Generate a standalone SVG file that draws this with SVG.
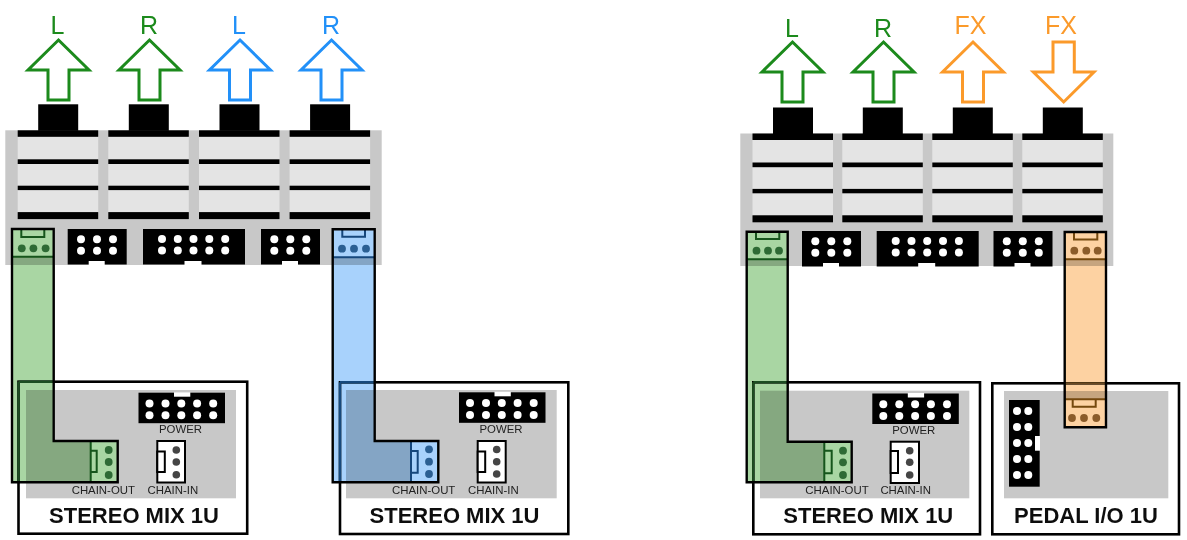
<svg xmlns="http://www.w3.org/2000/svg" width="1187" height="540" viewBox="0 0 1187 540">
<defs>
<style>
text{font-family:"Liberation Sans",Arial,sans-serif}
.sig{font-size:25px;text-anchor:middle}
.arrow{fill:#fff;stroke-width:3;stroke-linejoin:miter}
.g{stroke:#1a8a1a}.gt{fill:#1a8a1a}
.b{stroke:#2090f8}.bt{fill:#2090f8}
.o{stroke:#fb9a2c}.ot{fill:#fb9a2c}
.pg{fill:#c8c8c8}
.mod{fill:#e4e4e4}
.k{fill:#000}
.wd{fill:#fff}
.box{fill:#fff;stroke:#000;stroke-width:2.6}
.name{font-size:22px;font-weight:bold;text-anchor:middle;fill:#111}
.sm{font-size:11.4px;text-anchor:middle;fill:#222}
.cable{mix-blend-mode:multiply;stroke:none}
.outline{fill:none;stroke:#000;stroke-width:2.4;stroke-linejoin:miter}
.gf{fill:#a9d6a3}.bf{fill:#a8d2fc}.of{fill:#fdd2a2}
.gd{fill:#2f6b34}.bd{fill:#2b5f93}.od{fill:#8b5c2a}.nd{fill:#444}
.gl{fill:none;stroke:#14551a;stroke-width:2}
.bl{fill:none;stroke:#14477c;stroke-width:2}
.ol{fill:none;stroke:#74480f;stroke-width:2}
.nl{fill:#fff;stroke:#000;stroke-width:2}
</style>
<filter id="soft" x="0" y="0" width="100%" height="100%"><feGaussianBlur stdDeviation="0.45"/></filter>
<path id="up" d="M0 0L30.5 30H10.5V60H-10.5V30H-30.5Z"/>
<g id="stripes">
<rect class="mod" x="0" y="6" width="80.5" height="76"/>
<rect class="k" x="0" y="0" width="80.5" height="6.5"/>
<rect class="k" x="0" y="29" width="80.5" height="4.7"/>
<rect class="k" x="0" y="55.4" width="80.5" height="4.4"/>
<rect class="k" x="0" y="81.8" width="80.5" height="7"/>
<rect class="k" x="20.5" y="-26" width="40" height="26.5"/>
</g>
<g id="hdr6">
<rect class="k" x="0" y="0" width="59" height="35.5"/>
<rect class="wd" x="21" y="32" width="16" height="4"/>
<circle class="wd" cx="13.3" cy="10.3" r="4"/><circle class="wd" cx="29.3" cy="10.3" r="4"/><circle class="wd" cx="45.3" cy="10.3" r="4"/>
<circle class="wd" cx="13.3" cy="21.8" r="4"/><circle class="wd" cx="29.3" cy="21.8" r="4"/><circle class="wd" cx="45.3" cy="21.8" r="4"/>
</g>
<g id="hdr10">
<rect class="k" x="0" y="0" width="102" height="35.5"/>
<rect class="wd" x="41.5" y="32" width="17" height="4"/>
<circle class="wd" cx="19" cy="10" r="4"/><circle class="wd" cx="34.8" cy="10" r="4"/><circle class="wd" cx="50.5" cy="10" r="4"/><circle class="wd" cx="66.3" cy="10" r="4"/><circle class="wd" cx="82.2" cy="10" r="4"/>
<circle class="wd" cx="19" cy="21.6" r="4"/><circle class="wd" cx="34.8" cy="21.6" r="4"/><circle class="wd" cx="50.5" cy="21.6" r="4"/><circle class="wd" cx="66.3" cy="21.6" r="4"/><circle class="wd" cx="82.2" cy="21.6" r="4"/>
</g>
<g id="pwr">
<rect class="k" x="0" y="0" width="86.5" height="30.5"/>
<rect class="wd" x="35.5" y="-0.5" width="16.3" height="4.5"/>
<circle class="wd" cx="11" cy="10.8" r="4"/><circle class="wd" cx="27" cy="10.8" r="4"/><circle class="wd" cx="42.8" cy="10.8" r="4"/><circle class="wd" cx="58.6" cy="10.8" r="4"/><circle class="wd" cx="74.7" cy="10.8" r="4"/>
<circle class="wd" cx="11" cy="22.6" r="4"/><circle class="wd" cx="27" cy="22.6" r="4"/><circle class="wd" cx="42.8" cy="22.6" r="4"/><circle class="wd" cx="58.6" cy="22.6" r="4"/><circle class="wd" cx="74.7" cy="22.6" r="4"/>
</g>
</defs>
<g filter="url(#soft)">
<rect x="0" y="0" width="1187" height="540" fill="#fff"/>

<g id="out-l-a"><text class="sig gt" x="57.5" y="33.5">L</text><use href="#up" class="arrow g" x="58.5" y="40"/></g>
<g id="out-r-a"><text class="sig gt" x="149" y="33.5">R</text><use href="#up" class="arrow g" x="149.5" y="40"/></g>
<g id="out-l-b"><text class="sig bt" x="239" y="33.5">L</text><use href="#up" class="arrow b" x="240" y="40"/></g>
<g id="out-r-b"><text class="sig bt" x="331" y="33.5">R</text><use href="#up" class="arrow b" x="331.5" y="40"/></g>
<g id="out-l-c"><text class="sig gt" x="792" y="37">L</text><use href="#up" class="arrow g" x="792.5" y="42"/></g>
<g id="out-r-c"><text class="sig gt" x="883" y="37">R</text><use href="#up" class="arrow g" x="883.5" y="42"/></g>
<g id="out-fx-1"><text class="sig ot" x="970.5" y="33.5">FX</text><use href="#up" class="arrow o" x="973" y="42"/></g>
<g id="in-fx-2"><text class="sig ot" x="1061" y="33.5">FX</text><path class="arrow o" d="M1053 42H1074.3V72H1094L1063.7 102L1033.3 72H1053Z"/></g>

<g id="panel-left">
<rect class="pg" x="5.3" y="130.3" width="376.4" height="134.7"/>
<use href="#stripes" x="17.7" y="130.3"/>
<use href="#stripes" x="108.3" y="130.3"/>
<use href="#stripes" x="199" y="130.3"/>
<use href="#stripes" x="289.6" y="130.3"/>
<use href="#hdr6" x="67.7" y="229"/>
<use href="#hdr10" x="143" y="229"/>
<use href="#hdr6" x="261" y="229"/>
</g>
<g id="panel-right">
<rect class="pg" x="740.3" y="133.5" width="373" height="132.5"/>
<use href="#stripes" x="752.5" y="133.5"/>
<use href="#stripes" x="842.3" y="133.5"/>
<use href="#stripes" x="932.3" y="133.5"/>
<use href="#stripes" x="1022.3" y="133.5"/>
<use href="#hdr6" x="802" y="231"/>
<use href="#hdr10" x="876.7" y="231"/>
<use href="#hdr6" x="993.5" y="231"/>
</g>

<g id="mix-1">
<rect class="box" x="18.5" y="381.7" width="228.7" height="152"/>
<rect class="pg" x="26" y="390" width="210" height="108.3"/>
<use href="#pwr" x="138.5" y="392.7"/>
<text class="sm" x="180.5" y="433">POWER</text>
<text class="sm" x="103.3" y="494">CHAIN-OUT</text>
<text class="sm" x="172.8" y="494">CHAIN-IN</text>
<rect class="nl" x="157.3" y="441" width="27.7" height="41.5"/>
<rect class="nl" x="157.3" y="451.5" width="7.5" height="20.5"/>
<circle class="nd" cx="176.3" cy="450" r="3.8"/><circle class="nd" cx="176.3" cy="462" r="3.8"/><circle class="nd" cx="176.3" cy="474.7" r="3.8"/>
<text class="name" x="134" y="523">STEREO MIX 1U</text>
</g>
<g id="mix-2">
<rect class="box" x="340" y="382.3" width="228.3" height="151.7"/>
<rect class="pg" x="346" y="390" width="210.7" height="108.3"/>
<use href="#pwr" x="459" y="392.3"/>
<text class="sm" x="501" y="432.5">POWER</text>
<text class="sm" x="423.7" y="494">CHAIN-OUT</text>
<text class="sm" x="493.3" y="494">CHAIN-IN</text>
<rect class="nl" x="477.7" y="441" width="28" height="41.5"/>
<rect class="nl" x="477.7" y="451.5" width="7.5" height="20.5"/>
<circle class="nd" cx="496.7" cy="449.5" r="3.8"/><circle class="nd" cx="496.7" cy="461.7" r="3.8"/><circle class="nd" cx="496.7" cy="474" r="3.8"/>
<text class="name" x="454.5" y="523">STEREO MIX 1U</text>
</g>
<g id="mix-3">
<rect class="box" x="753.3" y="382.3" width="226.7" height="152"/>
<rect class="pg" x="760" y="390.7" width="209.3" height="107.6"/>
<use href="#pwr" x="872.3" y="393.5"/>
<text class="sm" x="913.7" y="433.5">POWER</text>
<text class="sm" x="837" y="494">CHAIN-OUT</text>
<text class="sm" x="905.7" y="494">CHAIN-IN</text>
<rect class="nl" x="890.7" y="441.7" width="28.3" height="41.3"/>
<rect class="nl" x="890.7" y="451" width="7.3" height="22"/>
<circle class="nd" cx="909.7" cy="450.7" r="3.8"/><circle class="nd" cx="909.7" cy="462.3" r="3.8"/><circle class="nd" cx="909.7" cy="475" r="3.8"/>
<text class="name" x="868.3" y="523.3">STEREO MIX 1U</text>
</g>
<g id="pedal-io">
<rect class="box" x="992.3" y="383.3" width="186.7" height="151"/>
<rect class="pg" x="1004" y="391" width="164.3" height="107.3"/>
<rect class="k" x="1009" y="400" width="30.7" height="86.7"/>
<rect class="wd" x="1035" y="436" width="5" height="14.7"/>
<g class="wd">
<circle cx="1017" cy="411" r="4"/><circle cx="1028.3" cy="411" r="4"/>
<circle cx="1017" cy="427" r="4"/><circle cx="1028.3" cy="427" r="4"/>
<circle cx="1017" cy="443" r="4"/><circle cx="1028.3" cy="443" r="4"/>
<circle cx="1017" cy="459" r="4"/><circle cx="1028.3" cy="459" r="4"/>
<circle cx="1017" cy="475" r="4"/><circle cx="1028.3" cy="475" r="4"/>
</g>
<text class="name" x="1086" y="523">PEDAL I/O 1U</text>
</g>

<g id="connectors">
<g id="cable-green-1">
<path class="cable gf" d="M12 229H53.7V441H117.7V482.3H12Z"/>
<path d="M18.5 381.7H53.7M18.5 381.7V482.3" fill="none" stroke="#1d4d22" stroke-width="2.4"/>
<rect class="gf" x="12" y="229" width="41.7" height="27.7"/>
<rect class="gf" x="90.7" y="441" width="27" height="41.3"/>
<path class="gl" d="M12 256.7H53.7M21.3 229V237H44.3V229M90.7 441V482.3M90.7 450.7H96.7V472H90.7"/>
<circle class="gd" cx="21.8" cy="248.3" r="3.9"/><circle class="gd" cx="33.4" cy="248.3" r="3.9"/><circle class="gd" cx="45.6" cy="248.3" r="3.9"/>
<circle class="gd" cx="108.7" cy="450" r="3.9"/><circle class="gd" cx="108.7" cy="462" r="3.9"/><circle class="gd" cx="108.7" cy="475" r="3.9"/>
<path class="outline" d="M12 229H53.7V441H117.7V482.3H12Z"/>
</g>
<g id="cable-blue">
<path class="cable bf" d="M332.7 229.3H374.7V441H438.3V482.3H332.7Z"/>
<path d="M340 382.3H374.7M340 382.3V482.3" fill="none" stroke="#174a7c" stroke-width="2.4"/>
<rect class="bf" x="332.7" y="229.3" width="42" height="28"/>
<rect class="bf" x="411" y="441" width="27.3" height="41.3"/>
<path class="bl" d="M332.7 257.3H374.7M342.3 229.3V236.7H365V229.3M411 441V482.3M411 451H417.7V472.7H411"/>
<circle class="bd" cx="342" cy="248.7" r="3.9"/><circle class="bd" cx="354" cy="248.7" r="3.9"/><circle class="bd" cx="366" cy="248.7" r="3.9"/>
<circle class="bd" cx="429" cy="449.3" r="3.9"/><circle class="bd" cx="429" cy="461.7" r="3.9"/><circle class="bd" cx="429" cy="474" r="3.9"/>
<path class="outline" d="M332.7 229.3H374.7V441H438.3V482.3H332.7Z"/>
</g>
<g id="cable-green-2">
<path class="cable gf" d="M746.7 231.7H787.7V441.7H851.7V482.3H746.7Z"/>
<path d="M753.3 382.3H787.7M753.3 382.3V482.3" fill="none" stroke="#1d4d22" stroke-width="2.4"/>
<rect class="gf" x="746.7" y="231.7" width="41" height="27.6"/>
<rect class="gf" x="824.3" y="441.7" width="27.4" height="40.6"/>
<path class="gl" d="M746.7 259.3H787.7M756 231.7V239H779.3V231.7M824.3 441.7V482.3M824.3 450.7H831.7V473.3H824.3"/>
<circle class="gd" cx="756.5" cy="250.7" r="3.9"/><circle class="gd" cx="768" cy="250.7" r="3.9"/><circle class="gd" cx="779" cy="250.7" r="3.9"/>
<circle class="gd" cx="843" cy="450.7" r="3.9"/><circle class="gd" cx="843" cy="462.3" r="3.9"/><circle class="gd" cx="843" cy="475" r="3.9"/>
<path class="outline" d="M746.7 231.7H787.7V441.7H851.7V482.3H746.7Z"/>
</g>
<g id="cable-orange">
<path class="cable of" d="M1064.7 232H1106V427.3H1064.7Z"/>
<path d="M1064.7 383.3H1106" fill="none" stroke="#6b4a20" stroke-width="2.2"/>
<rect class="of" x="1064.7" y="232" width="41.3" height="27.3"/>
<rect class="of" x="1064.7" y="399.3" width="41.3" height="28"/>
<path class="ol" d="M1064.7 259.3H1106M1074 232V239.5H1097.3V232M1064.7 399.3H1106M1072.7 399.3V406.7H1095.7V399.3"/>
<circle class="od" cx="1074.3" cy="250.7" r="3.9"/><circle class="od" cx="1086.3" cy="250.7" r="3.9"/><circle class="od" cx="1097.7" cy="250.7" r="3.9"/>
<circle class="od" cx="1072" cy="418" r="3.9"/><circle class="od" cx="1084" cy="418" r="3.9"/><circle class="od" cx="1096.3" cy="418" r="3.9"/>
<path class="outline" d="M1064.7 232H1106V427.3H1064.7Z"/>
</g>
</g>
</g>
</svg>
